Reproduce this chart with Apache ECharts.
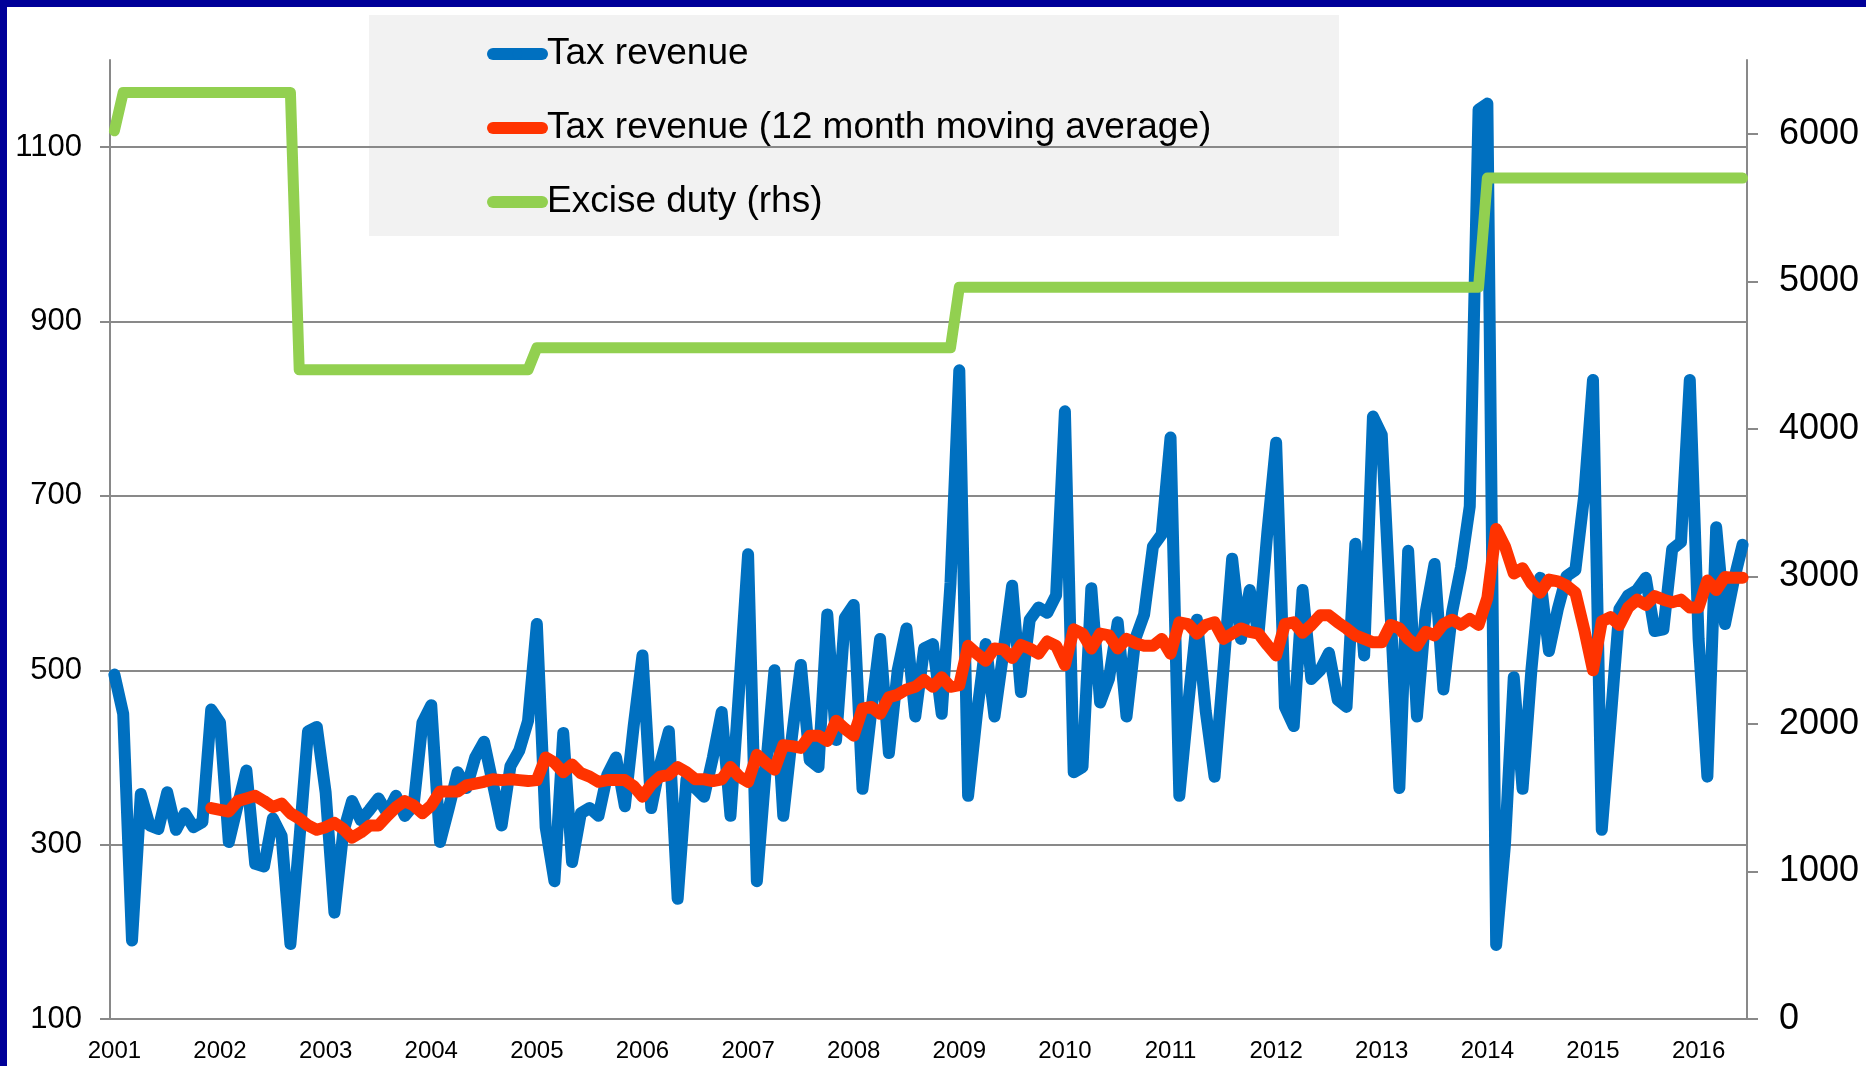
<!DOCTYPE html>
<html>
<head>
<meta charset="utf-8">
<title>Tax revenue and excise duty</title>
<script src="https://cdn.jsdelivr.net/npm/echarts@6/dist/echarts.min.js"></script>
<style>
  html, body { margin: 0; padding: 0; background: #fff; }
  #chart { position: absolute; left: 0; top: 0; width: 1866px; height: 1066px; }
  .edge { position: absolute; background: #000099; z-index: 5; }
  #edgeTop { left: 0; top: 0; width: 1866px; height: 7px; }
  #edgeLeft { left: 0; top: 0; width: 7px; height: 1066px; }
</style>
</head>
<body>
<div id="chart"></div>
<div class="edge" id="edgeTop"></div>
<div class="edge" id="edgeLeft"></div>
<script>
  // monthly, Jan 2001 - Jun 2016 (one row per year)
  var taxRevenue = [
    495, 450, 190, 358, 322, 318, 360, 317, 336, 320, 326, 455,
    440, 303, 345, 385, 278, 275, 330, 310, 186, 303, 430, 435,
    360, 222, 314, 350, 328, 340, 353, 336, 356, 333, 345, 440,
    460, 303, 342, 383, 365, 400, 418, 370, 322, 390, 408, 442,
    553, 320, 258, 428, 280, 336, 342, 333, 380, 400, 344, 436,
    517, 342, 392, 430, 238, 375, 365, 355, 400, 452, 333, 480,
    633, 258, 385, 500, 333, 425, 506, 397, 389, 564, 420, 560,
    575, 364, 453, 536, 405, 500, 548, 447, 525, 530, 450, 600,
    844, 356, 450, 530, 447, 520, 597, 475, 558, 572, 566, 586,
    797, 383, 389, 594, 463, 490, 555, 447, 536, 564, 642, 656,
    767, 356, 460, 558, 453, 378, 500, 628, 536, 592, 542, 658,
    761, 458, 436, 592, 490, 500, 520, 466, 458, 645, 517, 791,
    770, 567, 365, 637, 447, 567, 622, 478, 567, 618, 688, 1143,
    1150, 185, 300, 492, 364, 500, 606, 522, 570, 608, 615, 700,
    833, 317, 442, 570, 586, 592, 606, 545, 547, 639, 647, 833,
    536, 378, 664, 553, 603, 644
  ];

  var movingAverage = [
    null, null, null, null, null, null, null, null, null, null, null, 342,
    340, 338, 350, 353, 356, 350, 343, 347, 336, 330, 322, 317,
    320, 325, 318, 308, 314, 322, 322, 333, 343, 350, 345, 336,
    345, 361, 361, 361, 368, 370, 372, 375, 374, 375, 374, 373,
    374, 400, 394, 383, 392, 382, 378, 372, 374, 374, 374, 367,
    355, 369, 378, 380, 389, 383, 375, 375, 373, 375, 389, 378,
    372, 403, 394, 386, 414, 413, 411, 425, 425, 419, 442, 433,
    425, 456, 458, 450, 469, 472, 478, 481, 489, 481, 492, 481,
    483, 528, 519, 511, 525, 524, 514, 529, 525, 519, 533, 528,
    506, 547, 542, 525, 542, 540, 525, 536, 531, 528, 528, 536,
    519, 555, 553, 542, 552, 555, 536, 542, 548, 544, 542, 529,
    517, 553, 555, 543, 552, 563, 563, 555, 548, 540, 536, 532,
    532, 552, 548, 536, 528, 544, 540, 553, 558, 552, 559, 552,
    583, 662, 642, 611, 617, 600, 589, 604, 602, 597, 589, 547,
    500, 556, 561, 552, 572, 581, 575, 585, 581, 578, 581, 572,
    572, 603, 592, 607, 606, 606
  ];

  var exciseDuty = [
    6020, 6280, 6280, 6280, 6280, 6280, 6280, 6280, 6280, 6280, 6280, 6280,
    6280, 6280, 6280, 6280, 6280, 6280, 6280, 6280, 6280, 4400, 4400, 4400,
    4400, 4400, 4400, 4400, 4400, 4400, 4400, 4400, 4400, 4400, 4400, 4400,
    4400, 4400, 4400, 4400, 4400, 4400, 4400, 4400, 4400, 4400, 4400, 4400,
    4550, 4550, 4550, 4550, 4550, 4550, 4550, 4550, 4550, 4550, 4550, 4550,
    4550, 4550, 4550, 4550, 4550, 4550, 4550, 4550, 4550, 4550, 4550, 4550,
    4550, 4550, 4550, 4550, 4550, 4550, 4550, 4550, 4550, 4550, 4550, 4550,
    4550, 4550, 4550, 4550, 4550, 4550, 4550, 4550, 4550, 4550, 4550, 4550,
    4960, 4960, 4960, 4960, 4960, 4960, 4960, 4960, 4960, 4960, 4960, 4960,
    4960, 4960, 4960, 4960, 4960, 4960, 4960, 4960, 4960, 4960, 4960, 4960,
    4960, 4960, 4960, 4960, 4960, 4960, 4960, 4960, 4960, 4960, 4960, 4960,
    4960, 4960, 4960, 4960, 4960, 4960, 4960, 4960, 4960, 4960, 4960, 4960,
    4960, 4960, 4960, 4960, 4960, 4960, 4960, 4960, 4960, 4960, 4960, 4960,
    5700, 5700, 5700, 5700, 5700, 5700, 5700, 5700, 5700, 5700, 5700, 5700,
    5700, 5700, 5700, 5700, 5700, 5700, 5700, 5700, 5700, 5700, 5700, 5700,
    5700, 5700, 5700, 5700, 5700, 5700
  ];

  var leftTicks = [100, 300, 500, 700, 900, 1100];
  var rightTicks = [0, 1000, 2000, 3000, 4000, 5000, 6000];

  // category per month, label shown on each January
  var months = [];
  for (var y = 2001; y <= 2016; y++) {
    for (var m = 1; m <= 12; m++) {
      if (months.length < taxRevenue.length) months.push(y + '-' + (m < 10 ? '0' : '') + m);
    }
  }

  var axisGrey = '#898989';
  function plain(v) { return String(v); }

  var chart = echarts.init(document.getElementById('chart'));
  chart.setOption({
    animation: false,
    textStyle: { fontFamily: 'Liberation Sans, Arial, sans-serif' },
    graphic: [{
      type: 'rect',
      left: 369,
      top: 15,
      z: 0,
      shape: { width: 970, height: 221 },
      style: { fill: '#f2f2f2' }
    }],
    legend: {
      orient: 'vertical',
      left: 487,
      top: 34,
      padding: 0,
      itemWidth: 49,
      itemHeight: 12,
      itemGap: 34,
      lineStyle: { width: 12, cap: 'round' },
      textStyle: { fontSize: 37, lineHeight: 40, color: '#000' },
      data: ['Tax revenue', 'Tax revenue (12 month moving average)', 'Excise duty (rhs)']
    },
    grid: { left: 110, right: 119, top: 60, bottom: 47 },
    xAxis: {
      type: 'category',
      data: months,
      boundaryGap: true,
      axisLine: { lineStyle: { color: axisGrey, width: 2 } },
      axisTick: { interval: 0, length: 5, lineStyle: { color: axisGrey, width: 1.5 } },
      axisLabel: {
        interval: 11,
        fontSize: 24,
        color: '#000',
        margin: 20,
        formatter: function (v) { return v.slice(0, 4); }
      },
      splitLine: { show: false }
    },
    yAxis: [
      {
        type: 'value',
        position: 'left',
        min: 100,
        max: 1200,
        interval: 200,
        axisLine: { show: true, lineStyle: { color: axisGrey, width: 2 } },
        axisTick: { show: true, length: 10, customValues: leftTicks, lineStyle: { color: axisGrey, width: 2 } },
        axisLabel: { customValues: leftTicks, fontSize: 31, color: '#000', margin: 28, formatter: plain },
        splitLine: {
          show: true,
          lineStyle: { color: [axisGrey, axisGrey, axisGrey, axisGrey, axisGrey, axisGrey, 'rgba(0,0,0,0)'], width: 2 }
        }
      },
      {
        type: 'value',
        position: 'right',
        min: 0,
        max: 6500,
        interval: 1000,
        axisLine: { show: true, lineStyle: { color: axisGrey, width: 2 } },
        axisTick: { show: true, length: 11, customValues: rightTicks, lineStyle: { color: axisGrey, width: 2 } },
        axisLabel: { customValues: rightTicks, fontSize: 36, color: '#000', margin: 32, formatter: plain },
        splitLine: { show: false }
      }
    ],
    series: [
      {
        name: 'Tax revenue',
        type: 'line',
        yAxisIndex: 0,
        data: taxRevenue,
        symbol: 'none',
        color: '#0070c0',
        lineStyle: { width: 12, cap: 'round', join: 'round' }
      },
      {
        name: 'Tax revenue (12 month moving average)',
        type: 'line',
        yAxisIndex: 0,
        data: movingAverage,
        symbol: 'none',
        color: '#ff3300',
        lineStyle: { width: 12, cap: 'round', join: 'round' }
      },
      {
        name: 'Excise duty (rhs)',
        type: 'line',
        yAxisIndex: 1,
        data: exciseDuty,
        symbol: 'none',
        color: '#92d050',
        lineStyle: { width: 11, cap: 'round', join: 'round' }
      }
    ]
  });
</script>
</body>
</html>
